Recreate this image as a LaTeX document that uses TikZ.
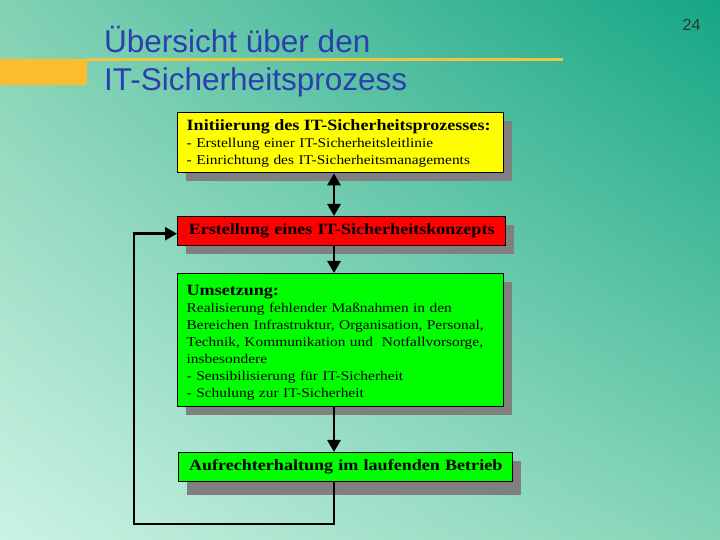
\documentclass[tikz,border=0pt]{standalone}
\usepackage{fontspec}
\setmainfont{Liberation Serif}
\newfontfamily\titlefont{Liberation Sans}
\newfontfamily\boxfont[FakeStretch=1.15]{Liberation Serif}
\usetikzlibrary{arrows.meta,shadows,shadings}

\definecolor{bgll}{HTML}{CBF3E3}
\definecolor{bgul}{HTML}{82D1B3}
\definecolor{bglr}{HTML}{84D4B6}
\definecolor{bgur}{HTML}{14A685}
\definecolor{titleblue}{HTML}{2B3FAE}
\definecolor{barorange}{HTML}{FBBC2D}
\definecolor{lineorange}{HTML}{F2C443}
\definecolor{boxyellow}{HTML}{FFFF00}
\definecolor{boxred}{HTML}{FF0000}
\definecolor{boxgreen}{HTML}{00FF00}
\definecolor{shadowgray}{HTML}{808080}

\begin{document}
\begin{tikzpicture}[x=1pt, y=1pt,
    >={Triangle[length=12pt,width=13pt]},
    stagebox/.style={draw=black, line width=1.4pt, anchor=north west, inner xsep=9pt, inner ysep=4pt,
      font=\boxfont\fontsize{13.4}{17}\selectfont,
      general shadow={fill=shadowgray, shadow xshift=8pt, shadow yshift=-8pt}},
    boxhead/.style={font=\boxfont\fontsize{15.7}{17}\selectfont\bfseries},
    flow/.style={line width=2.8pt},
    headline/.style={font=\titlefont\fontsize{31.5}{38}\selectfont, text=titleblue, anchor=base west, inner sep=0pt}]

    % Background
    \shade[lower left=bgll, upper left=bgul, lower right=bglr, upper right=bgur] (0,0) rectangle (720,540);
    \useasboundingbox (0,0) rectangle (720,540);

    % Title bar
    \fill[barorange] (0,455) rectangle (87,481);
    \draw[lineorange, line width=3pt] (87,480) -- (563,480);
    \node[headline] (title1) at (104,487) {Übersicht über den};
    \node[headline] (title2) at (104,449.5) {IT-Sicherheitsprozess};
    \node[font=\titlefont\fontsize{16}{18}\selectfont, text=black!80, anchor=base] (pagenum) at (691.5,509) {24};

    % Stages
    \node[stagebox, fill=boxyellow, text width=308pt, align=left, minimum height=60pt] (init) at (177,428)
      {\rule{0pt}{13pt}{\fontsize{15.7}{17}\selectfont\bfseries Initiierung des IT-Sicherheitsprozesses:}\\
       - Erstellung einer IT-Sicherheitsleitlinie\\
       - Einrichtung des IT-Sicherheitsmanagements};
    \node[stagebox, boxhead, fill=boxred, text width=310pt, align=center, minimum height=29pt] (concept) at (177,324)
      {Erstellung eines IT-Sicherheitskonzepts};
    \node[stagebox, fill=boxgreen, text width=308pt, align=left, minimum height=133pt] (realize) at (177,267)
      {\rule{0pt}{16pt}{\fontsize{15.7}{17}\selectfont\bfseries Umsetzung:}\\
       Realisierung fehlender Maßnahmen in den\\
       Bereichen Infrastruktur, Organisation, Personal,\\
       Technik, Kommunikation und\ \ Notfallvorsorge,\\
       insbesondere\\
       - Sensibilisierung für IT-Sicherheit\\
       - Schulung zur IT-Sicherheit};
    \node[stagebox, boxhead, fill=boxgreen, text width=316pt, align=center, minimum height=29pt,
      general shadow={fill=shadowgray, shadow xshift=8pt, shadow yshift=-13pt}] (upkeep) at (178,88)
      {Aufrechterhaltung im laufenden Betrieb};

    % Connectors
    \coordinate (spine) at (334,0);
    \coordinate (loopcorner) at (134,16);
    \draw[flow, <->] (init.south -| spine) -- (concept.north -| spine);
    \draw[flow, ->] (concept.south -| spine) -- (realize.north -| spine);
    \draw[flow, ->] (realize.south -| spine) -- (upkeep.north -| spine);
    \draw[flow, ->] (upkeep.south -| spine) |- (loopcorner) |- ([yshift=-2.5pt]concept.west);
\end{tikzpicture}
\end{document}
